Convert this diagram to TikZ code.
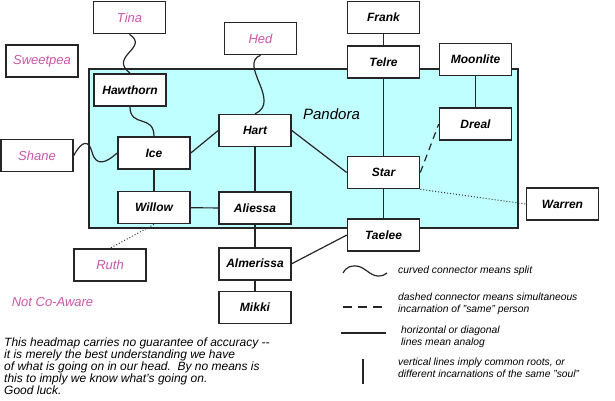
\documentclass[tikz,border=0pt]{standalone}
\usepackage{fontspec}
\setmainfont{Liberation Sans}
\usepackage{xcolor}
\usepackage{tikz}
\usetikzlibrary{positioning}
\definecolor{pandora}{RGB}{192,255,255}
\definecolor{outside}{RGB}{204,85,170}
\tikzstyle{rect} = [rectangle, draw=black!85, line width=1.6pt, fill=white, minimum width=72pt, minimum height=32pt, inner sep=0pt, font=\fontsize{12}{12}\selectfont\bfseries\itshape]
\tikzstyle{other} = [rect, text=outside, font=\fontsize{13}{13}\selectfont\itshape]
\tikzstyle{line} = [draw, black!85, line width=1.2pt]
\tikzstyle{simul} = [line, dash pattern=on 7pt off 5pt]
\tikzstyle{weak} = [draw, black!80, line width=1pt, dotted]
\tikzstyle{note} = [anchor=west, inner sep=0pt, align=left, font=\fontsize{10.3}{11.7}\selectfont\itshape]

\begin{document}
\begin{tikzpicture}[x=1pt, y=-1pt]
  \useasboundingbox (0,0) rectangle (615,400);
  % the Pandora system
  \draw [line width=1.6pt, draw=black!85, fill=pandora] (89,69) rectangle (518,228);
  \node (pan) at (331.5,114) {\fontsize{15}{15}\selectfont\itshape Pandora};

  \node (tina) [other] at (129.5,17.5) {Tina};
  \node (sweet) [other] at (42,61) {Sweetpea};
  \node (hed) [other] at (260.5,38.5) {Hed};
  \node (shane) [other] at (37,155.5) {Shane};
  \node (ruth) [other] at (110,265) {Ruth};
  \node (frank) [rect] at (383.5,17.5) {Frank};
  \node (telre) [rect, below=11pt of frank] {Telre};
  \node (moon) [rect] at (475.5,59.5) {Moonlite};
  \node (dreal) [rect, below=31pt of moon] {Dreal};
  \node (haw) [rect] at (130,90) {Hawthorn};
  \node (ice) [rect] at (154,153) {Ice};
  \node (willow) [rect, below=21pt of ice] {Willow};
  \node (hart) [rect] at (255,130.5) {Hart};
  \node (aliessa) [rect, below=44pt of hart] {Aliessa};
  \node (star) [rect] at (383.5,172.5) {Star};
  \node (taelee) [rect, below=29pt of star] {Taelee};
  \node (warren) [rect] at (562.5,204) {Warren};
  \node (almer) [rect, below=22pt of aliessa] {Almerissa};
  \node (mikki) [rect, below=10pt of almer] {Mikki};

  \draw [line] (frank) -- (telre);
  \draw [line] (telre) -- (star);
  \draw [line] (star) -- (taelee);
  \draw [line] (moon) -- (dreal);
  \draw [line] (ice) -- (willow);
  \draw [line] (willow) -- (aliessa);
  \draw [line] (hart) -- (aliessa);
  \draw [line] (aliessa) -- (almer);
  \draw [line] (almer) -- (mikki);
  \draw [line] (ice.east) -- (hart.west);
  \draw [line] (hart.east) -- (star.west);
  \draw [line] (taelee.west) -- (almer.east);
  \draw [simul] (star.east) -- (dreal.west);
  \draw [weak] (star.south east) -- (warren.west);
  \draw [weak] (willow.south) -- (ruth.north);
  % splits
  \draw [line] (tina.south) .. controls (150,48) and (108,56) .. (haw.north);
  \draw [line] (hed.south) .. controls (238,64) and (282,102) .. (hart.north);
  \draw [line] (haw.south) .. controls (130,128) and (154,114) .. (ice.north);
  \draw [line] (shane.east) .. controls (82,140) and (89,140) .. (92,152) .. controls (96,167) and (106,163) .. (ice.west);

  \node (nca) [text=outside, font=\fontsize{13}{13}\selectfont\itshape] at (52.5,302) {Not Co-Aware};

  % legend
  \draw [line] (343,273) .. controls (347,266) and (351,266) .. (356,266) .. controls (364,266) and (370,276) .. (378,276) .. controls (382,276) and (385,275) .. (387,273);
  \draw [simul, dash pattern=on 9pt off 6pt] (343,307) -- (382,307);
  \draw [line] (341,333) -- (386,333);
  \draw [line] (363,359) -- (363,384);
  \node (ksplit) [note] at (398,271) {curved connector means split};
  \node (ksim) [note] at (398,303.5) {dashed connector means simultaneous\\incarnation of "same" person};
  \node (kana) [note] at (401,336.5) {horizontal or diagonal\\lines mean analog};
  \node (ksoul) [note] at (398,367.5) {vertical lines imply common roots, or\\different incarnations of the same "soul"};

  \node (disc) [anchor=north west, align=left, inner sep=0pt, font=\fontsize{12}{11.9}\selectfont\itshape] at (4,338) {This headmap carries no guarantee of accuracy {-}{-}\\it is merely the best understanding we have\\of what is going on in our head.\ \ By no means is\\this to imply we know what's going on.\\Good luck.};
\end{tikzpicture}
\end{document}
